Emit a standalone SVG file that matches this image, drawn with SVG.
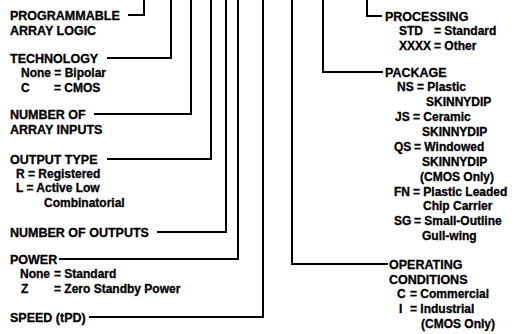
<svg xmlns="http://www.w3.org/2000/svg" width="517" height="334" viewBox="0 0 517 334">
<style>
text{font-family:"Liberation Sans",Arial,sans-serif;font-weight:bold;fill:#000;stroke:#000;stroke-width:0.3}
.h{font-size:12.5px}
.s{font-size:12px}
.ln{fill:none;stroke:#000;stroke-width:2;stroke-linecap:square}
</style>
<rect width="517" height="334" fill="#fff"/>
<g id="connectors">
<path class="ln" d="M144,0 V15 H129"/>
<path class="ln" d="M171,0 V58 H108"/>
<path class="ln" d="M191,0 V114 H95"/>
<path class="ln" d="M211,0 V159 H108"/>
<path class="ln" d="M226,0 V232 H158"/>
<path class="ln" d="M238,0 V259 H60"/>
<path class="ln" d="M263,0 V317 H90"/>
<path class="ln" d="M292,0 V264 H387"/>
<path class="ln" d="M323,0 V72 H382"/>
<path class="ln" d="M367,0 V16 H381"/>
</g>
<g id="pal"><text class="h" x="10" y="19.5">PROGRAMMABLE</text><text class="h" x="10" y="34.5">ARRAY LOGIC</text></g>
<g id="technology"><text class="h" x="10" y="63">TECHNOLOGY</text><text class="s" x="21" y="77">None = Bipolar</text><text class="s" x="21" y="91.5">C</text><text class="s" x="54" y="91.5">= CMOS</text></g>
<g id="array-inputs"><text class="h" x="10" y="118.5">NUMBER OF</text><text class="h" x="10" y="134">ARRAY INPUTS</text></g>
<g id="output-type"><text class="h" x="10" y="163.5">OUTPUT TYPE</text><text class="s" x="16" y="178">R = Registered</text><text class="s" x="16" y="192">L = Active Low</text><text class="s" x="44" y="206.5">Combinatorial</text></g>
<g id="outputs"><text class="h" x="10" y="236.5">NUMBER OF OUTPUTS</text></g>
<g id="power"><text class="h" x="10" y="263.5">POWER</text><text class="s" x="20" y="278">None</text><text class="s" x="54" y="278">= Standard</text><text class="s" x="21" y="292.5">Z</text><text class="s" x="54" y="292.5">= Zero Standby Power</text></g>
<g id="speed"><text class="h" x="10" y="321.5">SPEED (tPD)</text></g>
<g id="processing"><text class="h" x="385" y="20.5">PROCESSING</text><text class="s" x="399" y="35">STD</text><text class="s" x="434" y="35">= Standard</text><text class="s" x="399" y="50">XXXX</text><text class="s" x="434" y="50">= Other</text></g>
<g id="package"><text class="h" x="385" y="76.5">PACKAGE</text>
<text class="s" x="397" y="91">NS</text><text class="s" x="417" y="91">= Plastic</text><text class="s" x="426" y="106">SKINNYDIP</text>
<text class="s" x="395" y="121">JS</text><text class="s" x="413" y="121">= Ceramic</text><text class="s" x="422" y="136">SKINNYDIP</text>
<text class="s" x="394" y="151">QS</text><text class="s" x="414" y="151">= Windowed</text><text class="s" x="422" y="166">SKINNYDIP</text><text class="s" x="420" y="181">(CMOS Only)</text>
<text class="s" x="394" y="195.5">FN</text><text class="s" x="413" y="195.5">= Plastic Leaded</text><text class="s" x="423" y="210">Chip Carrier</text>
<text class="s" x="394" y="224.5">SG</text><text class="s" x="414" y="224.5">= Small-Outline</text><text class="s" x="422" y="240">Gull-wing</text></g>
<g id="operating"><text class="h" x="389" y="268.5">OPERATING</text><text class="h" x="389" y="283.5">CONDITIONS</text><text class="s" x="397" y="298">C</text><text class="s" x="410" y="298">= Commercial</text><text class="s" x="399" y="313">I</text><text class="s" x="410" y="313">= Industrial</text><text class="s" x="421" y="328">(CMOS Only)</text></g>
</svg>
